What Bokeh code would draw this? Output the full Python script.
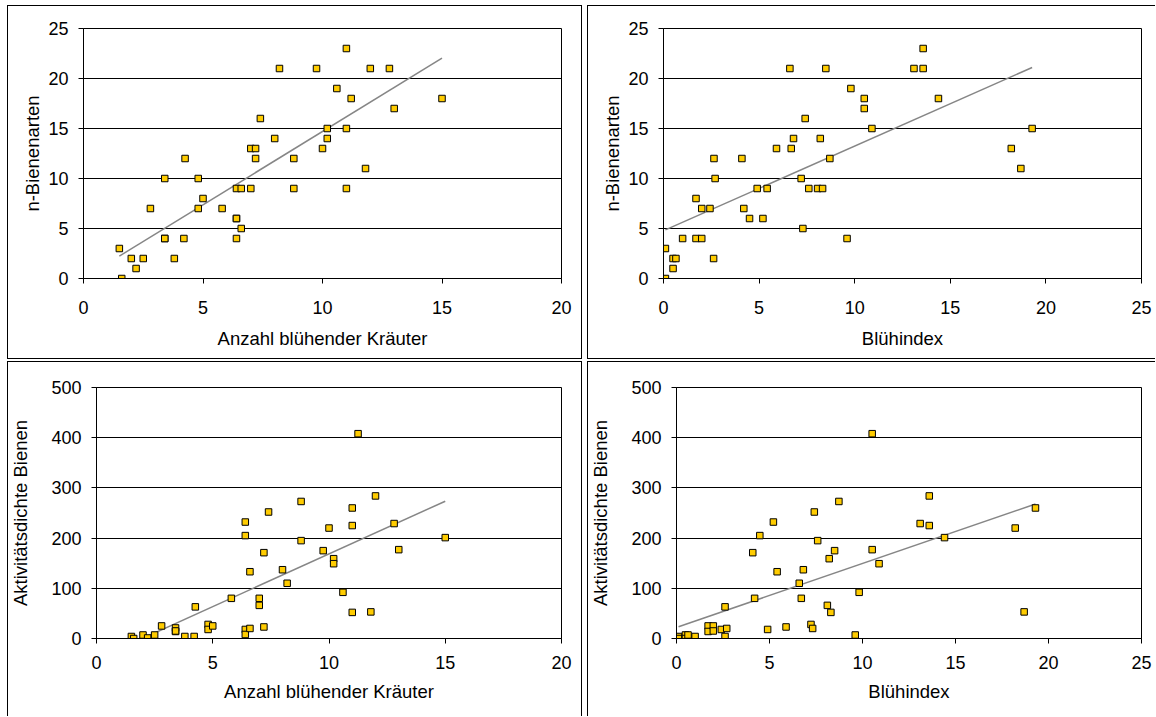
import numpy as np
from bokeh.plotting import figure
from bokeh.models import Range1d, FixedTicker, Spacer
from bokeh.layouts import row, column
from bokeh.embed import file_html
from bokeh.resources import INLINE

# ---------------- data ----------------
# Panel 1: Anzahl blühender Kräuter vs n-Bienenarten
kraeuter_arten_x = [1.5, 1.6, 2.0, 2.2, 2.5, 2.8, 3.4, 3.4, 3.4, 3.8, 4.2, 4.25, 4.8, 4.8, 5.0,
                    5.8, 6.4, 6.6, 6.4, 6.4, 6.4, 6.6, 7.0, 7.0, 7.2, 7.2, 7.4, 8.0, 8.2, 8.8,
                    8.8, 9.75, 10.0, 10.2, 10.2, 10.6, 11.0, 11.0, 11.0, 11.2, 11.8, 12.0, 12.8, 13.0, 15.0]
kraeuter_arten_y = [3, 0, 2, 1, 2, 7, 10, 4, 4, 2, 4, 12, 10, 7, 8,
                    7, 9, 9, 6, 6, 4, 5, 9, 13, 13, 12, 16, 14, 21, 12,
                    9, 21, 13, 15, 14, 19, 23, 15, 9, 18, 11, 21, 21, 17, 18]

# Panel 2: Blühindex vs n-Bienenarten
index_arten_x = [0.1, 0.1, 0.5, 0.65, 0.5, 1.0, 1.7, 1.7, 2.0, 2.0, 2.43, 2.62, 2.7, 4.2, 4.5,
                 4.9, 5.2, 5.42, 7.2, 7.29, 7.6, 8.06, 8.32, 9.6, 2.64, 4.1, 5.91, 6.61, 6.68, 6.8,
                 7.41, 8.2, 8.49, 8.7, 9.8, 10.5, 10.5, 10.9, 13.58, 13.1, 13.58, 14.38, 19.28, 18.19, 18.69]
index_arten_y = [3, 0, 2, 2, 1, 4, 8, 4, 4, 7, 7, 2, 10, 7, 6,
                 9, 6, 9, 10, 5, 9, 9, 9, 4, 12, 12, 13, 21, 13, 14,
                 16, 14, 21, 12, 19, 18, 17, 15, 23, 21, 21, 18, 15, 13, 11]

# Panel 3: Anzahl blühender Kräuter vs Aktivitätsdichte Bienen
kraeuter_dichte_x = [1.5, 1.6, 2.0, 2.2, 2.5, 2.8, 3.4, 3.4, 3.4, 3.8, 4.2, 4.25, 4.8, 4.8, 5.0,
                     5.8, 6.4, 6.4, 6.4, 6.4, 6.6, 6.6, 7.0, 7.0, 7.2, 7.2, 7.4, 8.0, 8.2, 8.8,
                     8.8, 9.75, 10.0, 10.2, 10.2, 10.6, 11.0, 11.0, 11.0, 11.25, 11.8, 12.0, 12.8, 13.0, 15.0]
kraeuter_dichte_y = [4, 0, 7, 1, 7, 25, 21, 14, 15, 4, 4, 63, 28, 18, 25,
                     80, 232, 205, 18, 8, 133, 20, 80, 66, 23, 171, 252, 137, 110, 273,
                     195, 175, 220, 159, 149, 92, 260, 225, 52, 408, 53, 284, 229, 177, 201]

# Panel 4: Blühindex vs Aktivitätsdichte Bienen
index_dichte_x = [0.11, 0.11, 0.48, 0.48, 0.62, 1.0, 1.7, 1.7, 1.98, 1.98, 2.41, 2.7, 2.61, 2.61, 4.1,
                  4.2, 4.48, 4.9, 5.21, 5.41, 5.89, 6.6, 6.82, 6.71, 7.23, 7.32, 7.41, 7.59, 8.11, 8.3,
                  8.21, 8.5, 8.73, 9.61, 9.82, 10.52, 10.52, 10.89, 13.1, 13.59, 13.59, 14.41, 18.21, 19.3, 18.69]
index_dichte_y = [4, 0, 7, 0, 7, 4, 25, 14, 25, 15, 18, 20, 4, 63, 171,
                  80, 205, 18, 232, 133, 23, 110, 137, 80, 28, 20, 252, 195, 66, 52,
                  159, 175, 273, 7, 92, 408, 177, 149, 229, 284, 225, 201, 220, 260, 53]

x_ticks_kraeuter = [0, 5, 10, 15, 20]
x_ticks_index = [0, 5, 10, 15, 20, 25]
y_ticks_arten = [0, 5, 10, 15, 20, 25]
y_ticks_dichte = [0, 100, 200, 300, 400, 500]

label_kraeuter = "Anzahl blühender Kräuter"
label_index = "Blühindex"
label_arten = "n-Bienenarten"
label_dichte = "Aktivitätsdichte Bienen"

FONT = "Liberation Sans"


def panel(xs, ys, x_ticks, y_ticks, xlabel, ylabel, w, h, fl, ft, fw, fh, shadow,
          ylab_standoff, xlab_standoff, xtick_standoff):
    p = figure(width=w, height=h,
               x_range=Range1d(x_ticks[0], x_ticks[-1]),
               y_range=Range1d(y_ticks[0], y_ticks[-1]),
               output_backend="svg", toolbar_location=None,
               min_border_left=fl, min_border_top=ft,
               min_border_right=w - fl - fw, min_border_bottom=h - ft - fh)
    p.border_fill_color = None
    p.background_fill_color = "white"
    p.outline_line_color = "black"
    p.outline_line_width = 1
    p.styles = {"box-shadow": shadow}
    p.xgrid.visible = False
    p.ygrid.grid_line_color = "black"
    p.ygrid.grid_line_width = 1
    p.xaxis.ticker = FixedTicker(ticks=x_ticks)
    p.yaxis.ticker = FixedTicker(ticks=y_ticks)
    for ax in (p.xaxis[0], p.yaxis[0]):
        ax.axis_line_color = "black"
        ax.axis_line_width = 1
        ax.major_tick_out = 5
        ax.major_tick_in = 0
        ax.major_tick_line_color = "black"
        ax.minor_tick_line_color = None
        ax.major_label_text_font = FONT
        ax.major_label_text_font_size = "18px"
        ax.major_label_text_color = "black"
        ax.axis_label_text_font = FONT
        ax.axis_label_text_font_size = "18.5px"
        ax.axis_label_text_font_style = "normal"
        ax.axis_label_text_color = "black"
    p.xaxis.axis_label = xlabel
    p.yaxis.axis_label = ylabel
    p.yaxis.major_label_standoff = 10
    p.xaxis.major_label_standoff = xtick_standoff
    p.yaxis.axis_label_standoff = ylab_standoff
    p.xaxis.axis_label_standoff = xlab_standoff

    # linear trend line (least squares), drawn from min to max x
    slope, icpt = np.polyfit(np.array(xs, float), np.array(ys, float), 1)
    x0, x1 = min(xs), max(xs)
    p.line([x0, x1], [slope * x0 + icpt, slope * x1 + icpt],
           line_color="#868686", line_width=1.5)
    p.scatter(xs, ys, marker="square", size=6.5, fill_color="#FFCC00",
              line_color="black", line_width=1)
    return p


B = "#000"
p1 = panel(kraeuter_arten_x, kraeuter_arten_y, x_ticks_kraeuter, y_ticks_arten,
           label_kraeuter, label_arten, 575, 354, 76, 23, 478, 250,
           f"inset 1px 1px 0 0 {B}, inset -1px -1px 0 0 {B}", 2, 11, 17)
p2 = panel(index_arten_x, index_arten_y, x_ticks_index, y_ticks_arten,
           label_index, label_arten, 568, 354, 76, 23, 478, 250,
           f"inset 1px 1px 0 0 {B}, inset 0 -1px 0 0 {B}", 2, 11, 17)
p3 = panel(kraeuter_dichte_x, kraeuter_dichte_y, x_ticks_kraeuter, y_ticks_dichte,
           label_kraeuter, label_dichte, 575, 355, 87, 26, 467, 251,
           f"inset 1px 1px 0 0 {B}, inset -1px 0 0 0 {B}", 17, 9, 12)
p4 = panel(index_dichte_x, index_dichte_y, x_ticks_index, y_ticks_dichte,
           label_index, label_dichte, 568, 355, 87, 26, 467, 251,
           f"inset 1px 1px 0 0 {B}", 17, 9, 12)

top_row = row(Spacer(width=7), p1, Spacer(width=5), p2, spacing=0)
bottom_row = row(Spacer(width=7), p3, Spacer(width=5), p4, spacing=0)
layout = column(Spacer(height=5), top_row, Spacer(height=2), bottom_row, spacing=0)

with open("out.html", "w") as f:
    f.write(file_html(layout, INLINE))
